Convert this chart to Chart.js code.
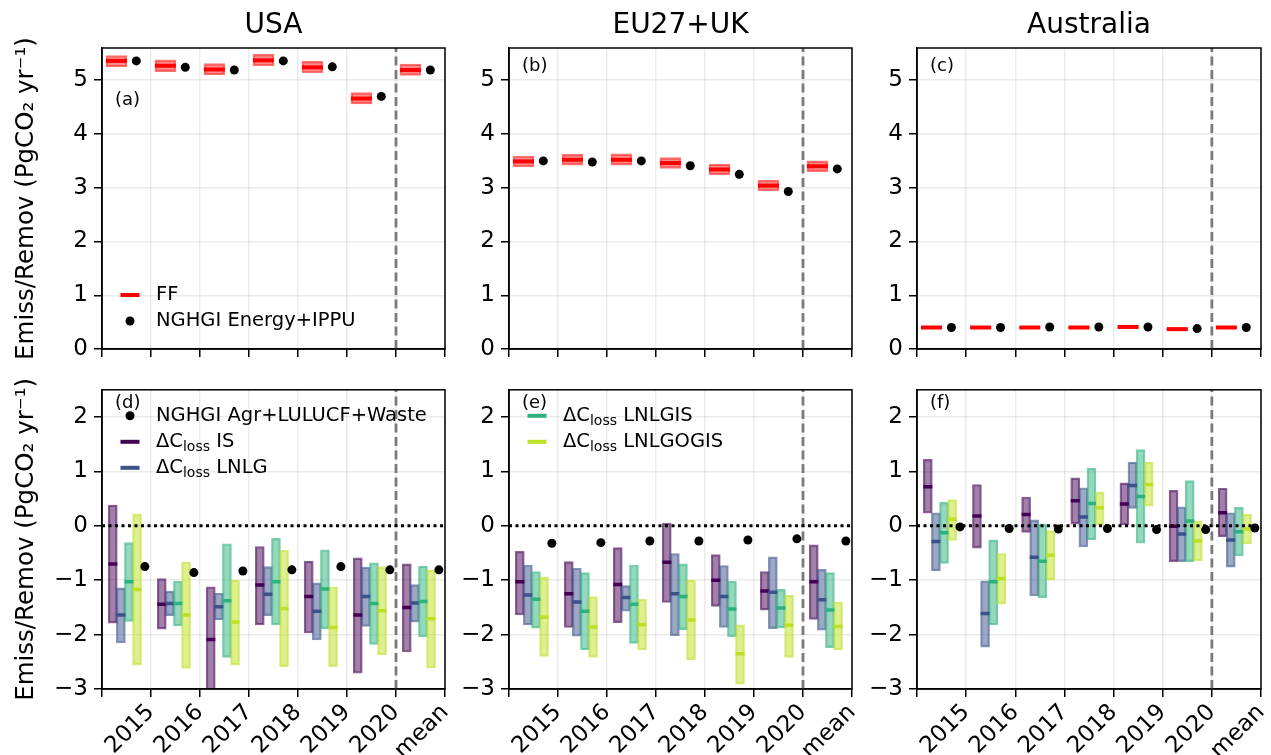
<!DOCTYPE html>
<html>
<head>
<meta charset="utf-8">
<script src="https://cdn.jsdelivr.net/npm/chart.js@4.4.0/dist/chart.umd.min.js"></script>
<style>
  html, body { margin: 0; padding: 0; background: #fff; }
  #wrap { position: relative; width: 1271px; height: 755px; overflow: hidden; }
  #wrap canvas { position: absolute; }
</style>
</head>
<body>
<div id="wrap"></div>
<script>
const YEARS = ['2015', '2016', '2017', '2018', '2019', '2020', 'mean'];
const REGIONS = ['USA', 'EU27+UK', 'Australia'];

// top row: FF range (low / median / high) and NGHGI Energy+IPPU
const usaFFLow  = [5.25, 5.16, 5.10, 5.27, 5.14, 4.56, 5.09];
const usaFF     = [5.36, 5.27, 5.20, 5.37, 5.24, 4.66, 5.19];
const usaFFHigh = [5.46, 5.38, 5.31, 5.48, 5.35, 4.77, 5.30];
const usaEnergy = [5.36, 5.24, 5.19, 5.36, 5.25, 4.70, 5.19];

const euFFLow  = [3.39, 3.42, 3.42, 3.36, 3.24, 2.94, 3.30];
const euFF     = [3.49, 3.52, 3.52, 3.46, 3.34, 3.04, 3.40];
const euFFHigh = [3.59, 3.62, 3.63, 3.56, 3.44, 3.14, 3.50];
const euEnergy = [3.50, 3.48, 3.50, 3.41, 3.25, 2.93, 3.35];

const ausFFLow  = [0.39, 0.39, 0.39, 0.39, 0.40, 0.36, 0.39];
const ausFF     = [0.40, 0.40, 0.40, 0.40, 0.41, 0.37, 0.40];
const ausFFHigh = [0.41, 0.41, 0.41, 0.41, 0.42, 0.38, 0.41];
const ausEnergy = [0.40, 0.40, 0.41, 0.41, 0.41, 0.38, 0.40];

// bottom row: ΔC_loss ranges for the four methods, NGHGI Agr+LULUCF+Waste
const usaIsLow  = [-1.79, -1.90, -3.30, -1.82, -1.97, -2.71, -2.32];
const usaIsMed  = [-0.70, -1.44, -2.09, -1.09, -1.30, -1.64, -1.50];
const usaIsHigh = [ 0.38, -0.97, -1.12, -0.38, -0.65, -0.59, -0.70];
const usaLnlgLow  = [-2.15, -1.65, -1.73, -1.65, -2.10, -1.85, -1.77];
const usaLnlgMed  = [-1.64, -1.43, -1.49, -1.26, -1.57, -1.30, -1.42];
const usaLnlgHigh = [-1.14, -1.20, -1.24, -0.75, -1.05, -0.76, -1.08];
const usaLnlgisLow  = [-1.76, -1.84, -2.42, -1.82, -1.89, -2.18, -2.04];
const usaLnlgisMed  = [-1.03, -1.43, -1.38, -1.03, -1.16, -1.43, -1.39];
const usaLnlgisHigh = [-0.31, -1.02, -0.33, -0.23, -0.44, -0.68, -0.74];
const usaLnlgogisLow  = [-2.56, -2.62, -2.56, -2.59, -2.59, -2.37, -2.61];
const usaLnlgogisMed  = [-1.17, -1.64, -1.77, -1.52, -1.87, -1.56, -1.71];
const usaLnlgogisHigh = [ 0.22, -0.67, -1.00, -0.45, -1.12, -0.75, -0.81];
const usaAgr = [-0.75, -0.86, -0.83, -0.81, -0.75, -0.81, -0.81];

const euIsLow  = [-1.64, -1.87, -1.78, -1.41, -1.48, -1.55, -1.72];
const euIsMed  = [-1.03, -1.25, -1.08, -0.67, -1.00, -1.20, -1.03];
const euIsHigh = [-0.47, -0.66, -0.40,  0.05, -0.53, -0.84, -0.35];
const euLnlgLow  = [-1.82, -2.03, -1.57, -2.02, -1.87, -1.89, -1.92];
const euLnlgMed  = [-1.27, -1.40, -1.32, -1.25, -1.30, -1.22, -1.36];
const euLnlgHigh = [-0.72, -0.78, -1.10, -0.51, -0.73, -0.57, -0.80];
const euLnlgisLow  = [-1.88, -2.28, -2.16, -1.91, -2.04, -1.88, -2.24];
const euLnlgisMed  = [-1.35, -1.57, -1.44, -1.30, -1.53, -1.51, -1.55];
const euLnlgisHigh = [-0.84, -0.86, -0.72, -0.70, -1.02, -1.17, -0.86];
const euLnlgogisLow  = [-2.40, -2.42, -2.28, -2.46, -2.91, -2.42, -2.28];
const euLnlgogisMed  = [-1.68, -1.86, -1.82, -1.73, -2.35, -1.83, -1.85];
const euLnlgogisHigh = [-0.94, -1.30, -1.35, -1.00, -1.82, -1.28, -1.40];
const euAgr = [-0.32, -0.31, -0.28, -0.28, -0.26, -0.24, -0.28];

const ausIsLow  = [ 0.23, -0.41, -0.12,  0.03,  0.02, -0.66, -0.20];
const ausIsMed  = [ 0.72,  0.18,  0.21,  0.46,  0.40, -0.01,  0.24];
const ausIsHigh = [ 1.22,  0.76,  0.53,  0.88,  0.79,  0.65,  0.69];
const ausLnlgLow  = [-0.83, -2.23, -1.29, -0.39,  0.32, -0.66, -0.76];
const ausLnlgMed  = [-0.29, -1.61, -0.58,  0.16,  0.74, -0.15, -0.26];
const ausLnlgHigh = [ 0.24, -1.01,  0.11,  0.70,  1.17,  0.35,  0.24];
const ausLnlgisLow  = [-0.69, -1.82, -1.32, -0.26, -0.32, -0.66, -0.55];
const ausLnlgisMed  = [-0.13, -1.03, -0.65,  0.41,  0.54,  0.09, -0.11];
const ausLnlgisHigh = [ 0.43, -0.26,  0.03,  1.06,  1.40,  0.83,  0.34];
const ausLnlgogisLow  = [-0.27, -1.44, -1.00,  0.02,  0.36, -0.64, -0.33];
const ausLnlgogisMed  = [ 0.12, -0.97, -0.54,  0.33,  0.76, -0.28, -0.06];
const ausLnlgogisHigh = [ 0.48, -0.51, -0.09,  0.62,  1.17,  0.09,  0.21];
const ausAgr = [-0.02, -0.05, -0.06, -0.05, -0.07, -0.07, -0.04];

const LOSS_NAMES = ['IS', 'LNLG', 'LNLGIS', 'LNLGOGIS'];
const LOSS_COLORS = ['#440154', '#3b528b', '#2db27d', '#bddf26'];

// placement inside each year slot
const FF_OFFSET = 0.295, TOP_DOT_OFFSET = 0.70;
const BAR_OFFSETS = [0.22, 0.385, 0.55, 0.715], BOTTOM_DOT_OFFSET = 0.875;

const FONT = "'DejaVu Sans', sans-serif";
Chart.defaults.font.family = FONT;
Chart.defaults.color = '#000';

const wrap = document.getElementById('wrap');
const GRID = 'rgba(0,0,0,0.08)';

// each canvas is wider than its plot so rotated tick labels never squeeze the plot area
const COLS = [
  { left: 0,   width: 490, axisW: 102, plotW: 343 },
  { left: 460, width: 435, axisW: 49,  plotW: 343 },
  { left: 860, width: 441, axisW: 57,  plotW: 344 },
];
const ROWS = [
  { top: 0,   height: 370, padTop: 48, axisH: 21 },
  { top: 370, height: 385, padTop: 18, axisH: 66 },
];

function rgba(hex, a) {
  const n = parseInt(hex.slice(1), 16);
  return `rgba(${n >> 16},${(n >> 8) & 255},${n & 255},${a})`;
}

function decor(extra) {
  return {
    id: 'panelDecor',
    afterDraw(chart) {
      const { ctx, chartArea: a } = chart;
      ctx.save();
      ctx.strokeStyle = '#000';
      ctx.lineWidth = 1.5;
      ctx.strokeRect(a.left, a.top, a.right - a.left, a.bottom - a.top);
      ctx.fillStyle = '#000';
      if (extra.title) {
        ctx.font = `28px ${FONT}`;
        ctx.textAlign = 'center';
        ctx.textBaseline = 'alphabetic';
        ctx.fillText(extra.title, (a.left + a.right) / 2, a.top - 15);
      }
      ctx.font = `18px ${FONT}`;
      ctx.textAlign = 'left';
      ctx.textBaseline = 'middle';
      ctx.fillText(extra.letter, a.left + 13, a.top + extra.letterY);
      (extra.legend || []).forEach((item, i) => {
        const y = a.top + extra.legendY + i * 26;
        const mx = a.left + 28;
        if (item.dot) {
          ctx.beginPath();
          ctx.arc(mx, y, 4.5, 0, Math.PI * 2);
          ctx.fillStyle = '#000';
          ctx.fill();
        } else {
          ctx.fillStyle = item.color;
          ctx.fillRect(mx - 9.5, y - 2, 19, 4);
        }
        ctx.fillStyle = '#000';
        let tx = a.left + 54;
        ctx.font = `19.5px ${FONT}`;
        if (item.loss) {
          ctx.fillText('\u0394C', tx, y);
          tx += ctx.measureText('\u0394C').width;
          ctx.font = `14px ${FONT}`;
          ctx.fillText('loss', tx, y + 6);
          tx += ctx.measureText('loss').width;
          ctx.font = `19.5px ${FONT}`;
          ctx.fillText(' ' + item.loss, tx, y);
        } else {
          ctx.fillText(item.text, tx, y);
        }
      });
      ctx.restore();
    }
  };
}

function refLines(yMin, yMax, zero) {
  const out = [{
    type: 'line', data: [{ x: 6, y: yMin }, { x: 6, y: yMax }],
    borderColor: '#7a7a7a', borderWidth: 2.8, borderDash: [9, 4.5],
    pointRadius: 0, order: 2
  }];
  if (zero) out.push({
    type: 'line', data: [{ x: 0, y: 0 }, { x: 7, y: 0 }],
    borderColor: '#000', borderWidth: 3, borderDash: [3, 3.5],
    pointRadius: 0, order: 1
  });
  return out;
}

function makeChart(ci, ri, datasets, yMin, yMax, extra) {
  const col = COLS[ci], row = ROWS[ri];
  const canvas = document.createElement('canvas');
  canvas.width = col.width;
  canvas.height = row.height;
  canvas.style.left = col.left + 'px';
  canvas.style.top = row.top + 'px';
  wrap.appendChild(canvas);
  const showX = ri === 1;
  new Chart(canvas, {
    type: 'bar',
    data: { datasets },
    options: {
      responsive: false,
      animation: false,
      events: [],
      layout: { padding: { top: row.padTop, right: col.width - col.axisW - col.plotW, left: 0, bottom: 0 } },
      plugins: { legend: { display: false }, tooltip: { enabled: false } },
      scales: {
        x: {
          type: 'linear', min: 0, max: 7, offset: false,
          grid: { offset: false, color: GRID, lineWidth: 1.5, tickColor: '#000', tickLength: 8, tickWidth: 1.5 },
          border: { color: '#000', width: 1.5 },
          ticks: {
            stepSize: 1, autoSkip: false, padding: 2,
            minRotation: showX ? 45 : 0, maxRotation: showX ? 45 : 0,
            font: { size: 23 },
            callback: v => showX ? (YEARS[Math.round(v) - 1] || '') : ''
          },
          afterFit: s => { s.height = row.axisH; }
        },
        y: {
          min: yMin, max: yMax,
          grid: { color: GRID, lineWidth: 1.5, tickColor: '#000', tickLength: 8, tickWidth: 1.5 },
          border: { color: '#000', width: 1.5 },
          ticks: {
            stepSize: 1, includeBounds: false, padding: 6, font: { size: 23 },
            callback: v => (v < 0 ? '\u2212' + Math.abs(v) : String(v))
          },
          title: {
            display: ci === 0, text: 'Emiss/Remov (PgCO\u2082 yr\u207B\u00B9)',
            font: { size: 24.5 }, padding: { top: 12, bottom: 0 }
          },
          afterFit: s => { s.width = col.axisW; }
        }
      }
    },
    plugins: [decor(extra)]
  });
}

const topData = [
  [usaFFLow, usaFF, usaFFHigh, usaEnergy],
  [euFFLow, euFF, euFFHigh, euEnergy],
  [ausFFLow, ausFF, ausFFHigh, ausEnergy],
];
const bottomData = [
  [[usaIsLow, usaIsMed, usaIsHigh], [usaLnlgLow, usaLnlgMed, usaLnlgHigh],
   [usaLnlgisLow, usaLnlgisMed, usaLnlgisHigh], [usaLnlgogisLow, usaLnlgogisMed, usaLnlgogisHigh], usaAgr],
  [[euIsLow, euIsMed, euIsHigh], [euLnlgLow, euLnlgMed, euLnlgHigh],
   [euLnlgisLow, euLnlgisMed, euLnlgisHigh], [euLnlgogisLow, euLnlgogisMed, euLnlgogisHigh], euAgr],
  [[ausIsLow, ausIsMed, ausIsHigh], [ausLnlgLow, ausLnlgMed, ausLnlgHigh],
   [ausLnlgisLow, ausLnlgisMed, ausLnlgisHigh], [ausLnlgogisLow, ausLnlgogisMed, ausLnlgogisHigh], ausAgr],
];

const topExtras = [
  { title: REGIONS[0], letter: '(a)', letterY: 52, legendY: 247,
    legend: [{ color: '#ff0000', text: 'FF' }, { dot: true, text: 'NGHGI Energy+IPPU' }] },
  { title: REGIONS[1], letter: '(b)', letterY: 18 },
  { title: REGIONS[2], letter: '(c)', letterY: 18 },
];
const bottomExtras = [
  { letter: '(d)', letterY: 14, legendY: 26,
    legend: [{ dot: true, text: 'NGHGI Agr+LULUCF+Waste' },
             { color: LOSS_COLORS[0], loss: LOSS_NAMES[0] },
             { color: LOSS_COLORS[1], loss: LOSS_NAMES[1] }] },
  { letter: '(e)', letterY: 14, legendY: 26,
    legend: [{ color: LOSS_COLORS[2], loss: LOSS_NAMES[2] },
             { color: LOSS_COLORS[3], loss: LOSS_NAMES[3] }] },
  { letter: '(f)', letterY: 14 },
];

topData.forEach(([lo, med, hi, energy], ci) => {
  const ds = [
    { type: 'bar', data: YEARS.map((_, i) => ({ x: i + FF_OFFSET, y: [lo[i], hi[i]] })),
      backgroundColor: 'rgba(255,0,0,0.45)', borderColor: 'rgba(255,0,0,0.55)', borderWidth: 1.5,
      borderSkipped: false, barThickness: 21, grouped: false, order: 10 },
    { type: 'scatter', data: YEARS.map((_, i) => ({ x: i + FF_OFFSET, y: med[i] })),
      pointStyle: 'line', pointRadius: 10.5, pointBorderWidth: 4, pointBorderColor: '#ff0000', order: 5 },
    { type: 'scatter', data: YEARS.map((_, i) => ({ x: i + TOP_DOT_OFFSET, y: energy[i] })),
      pointRadius: 4.5, pointBorderWidth: 0, pointBackgroundColor: '#000', order: 0 },
    ...refLines(0, 5.6, false)
  ];
  makeChart(ci, 0, ds, 0, 5.6, topExtras[ci]);
});

bottomData.forEach((panel, ci) => {
  const ds = [];
  for (let k = 0; k < 4; k++) {
    const [lo, med, hi] = panel[k];
    const c = LOSS_COLORS[k];
    ds.push({ type: 'bar', data: YEARS.map((_, i) => ({ x: i + BAR_OFFSETS[k], y: [lo[i], hi[i]] })),
      backgroundColor: rgba(c, 0.5), borderColor: rgba(c, 0.62), borderWidth: 1.5,
      borderSkipped: false, barThickness: 9, grouped: false, order: 20 - k });
    ds.push({ type: 'scatter', data: YEARS.map((_, i) => ({ x: i + BAR_OFFSETS[k], y: med[i] })),
      pointStyle: 'line', pointRadius: 4.5, pointBorderWidth: 3.5, pointBorderColor: c, order: 10 - k });
  }
  const agr = panel[4];
  ds.push({ type: 'scatter', data: YEARS.map((_, i) => ({ x: i + BOTTOM_DOT_OFFSET, y: agr[i] })),
    pointRadius: 4.5, pointBorderWidth: 0, pointBackgroundColor: '#000', order: 0 });
  ds.push(...refLines(-3, 2.5, true));
  makeChart(ci, 1, ds, -3, 2.5, bottomExtras[ci]);
});
</script>
</body>
</html>
